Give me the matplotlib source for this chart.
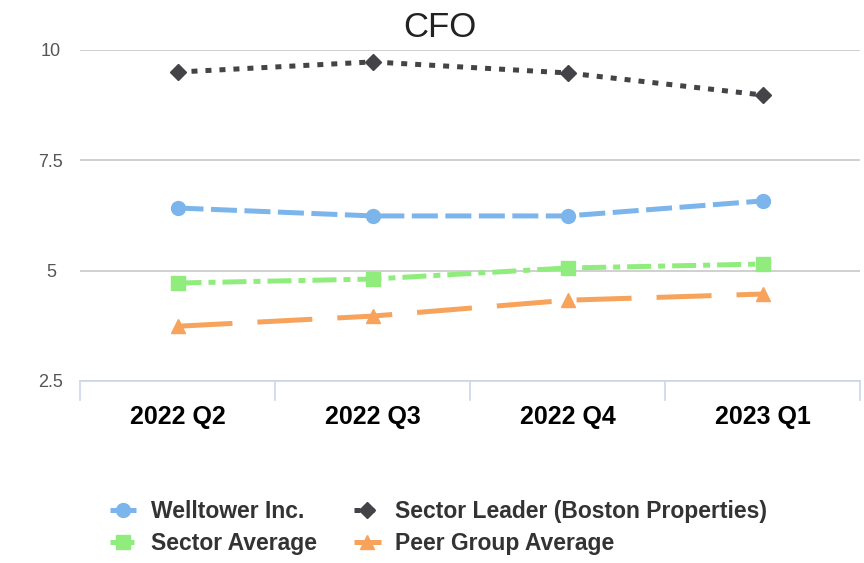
import matplotlib
matplotlib.use("Agg")
import matplotlib.pyplot as plt

plt.rcParams['font.family'] = ['Liberation Sans', 'DejaVu Sans']

# data
quarters = ['2022 Q2', '2022 Q3', '2022 Q4', '2023 Q1']
welltower = [6.42, 6.24, 6.24, 6.58]
sector_leader = [9.50, 9.73, 9.48, 8.98]
sector_avg = [4.72, 4.81, 5.06, 5.15]
peer_avg = [3.74, 3.97, 4.33, 4.47]

fig = plt.figure(figsize=(8.64, 5.63), dpi=100)
ax = fig.add_axes([0.0926, 0.3233, 0.9028, 0.5879])

x = range(len(quarters))
lw = 3.6
l1, = ax.plot(x, welltower, color='#7cb5ec', lw=lw, linestyle=(0, (5.2, 1.5)),
              marker='o', markersize=10, label='Welltower Inc.', zorder=4)
l2, = ax.plot(x, sector_leader, color='#434348', lw=lw, linestyle=(0, (1.2, 1.6)),
              marker='D', markersize=8, label='Sector Leader (Boston Properties)', zorder=4)
l3, = ax.plot(x, sector_avg, color='#90ed7d', lw=lw, linestyle=(0, (4.8, 1.4, 1.4, 1.4)),
              marker='s', markersize=10, label='Sector Average', zorder=4)
l4, = ax.plot(x, peer_avg, color='#f7a35c', lw=lw, linestyle=(0, (11, 5)),
              marker='^', markersize=10, label='Peer Group Average', zorder=4)

ax.set_xlim(-0.5, len(quarters) - 0.5)
ax.set_ylim(2.5, 10)
ax.set_yticks([2.5, 5, 7.5, 10])
ax.set_yticklabels(['2.5', '5', '7.5', '10'])
ax.yaxis.grid(True, color='#c8c8c8', lw=1.2)
ax.set_axisbelow(True)

for s in ['top', 'right', 'left']:
    ax.spines[s].set_visible(False)
ax.spines['bottom'].set_color('#ccd6eb')
ax.spines['bottom'].set_linewidth(1.2)

ax.tick_params(axis='y', length=0, labelsize=13, labelcolor='#555555', pad=21)
for t in ax.get_yticklabels():
    t.set_ha('center')
ax.set_xticks(list(x))
ax.set_xticklabels(quarters, fontsize=18, fontweight='bold')
ax.tick_params(axis='x', length=0, pad=17)

# category separators below the axis
for b in [-0.5, 0.5, 1.5, 2.5, 3.5]:
    ax.plot([b, b], [2.5, 2.07], color='#ccd6eb', lw=1.2, clip_on=False)

fig.text(0.509, 0.952, 'CFO', ha='center', va='center', fontsize=25, color='#222222')

leg = fig.legend(handles=[l1, l3, l2, l4], loc='lower left', bbox_to_anchor=(0.103, -0.022),
                 ncol=2, frameon=False, fontsize=16.5, handlelength=1.2,
                 handletextpad=0.6, columnspacing=1.6, labelspacing=0.4)
for t in leg.get_texts():
    t.set_fontweight('bold')
    t.set_color('#333333')

fig.savefig('out.png', dpi=100)
